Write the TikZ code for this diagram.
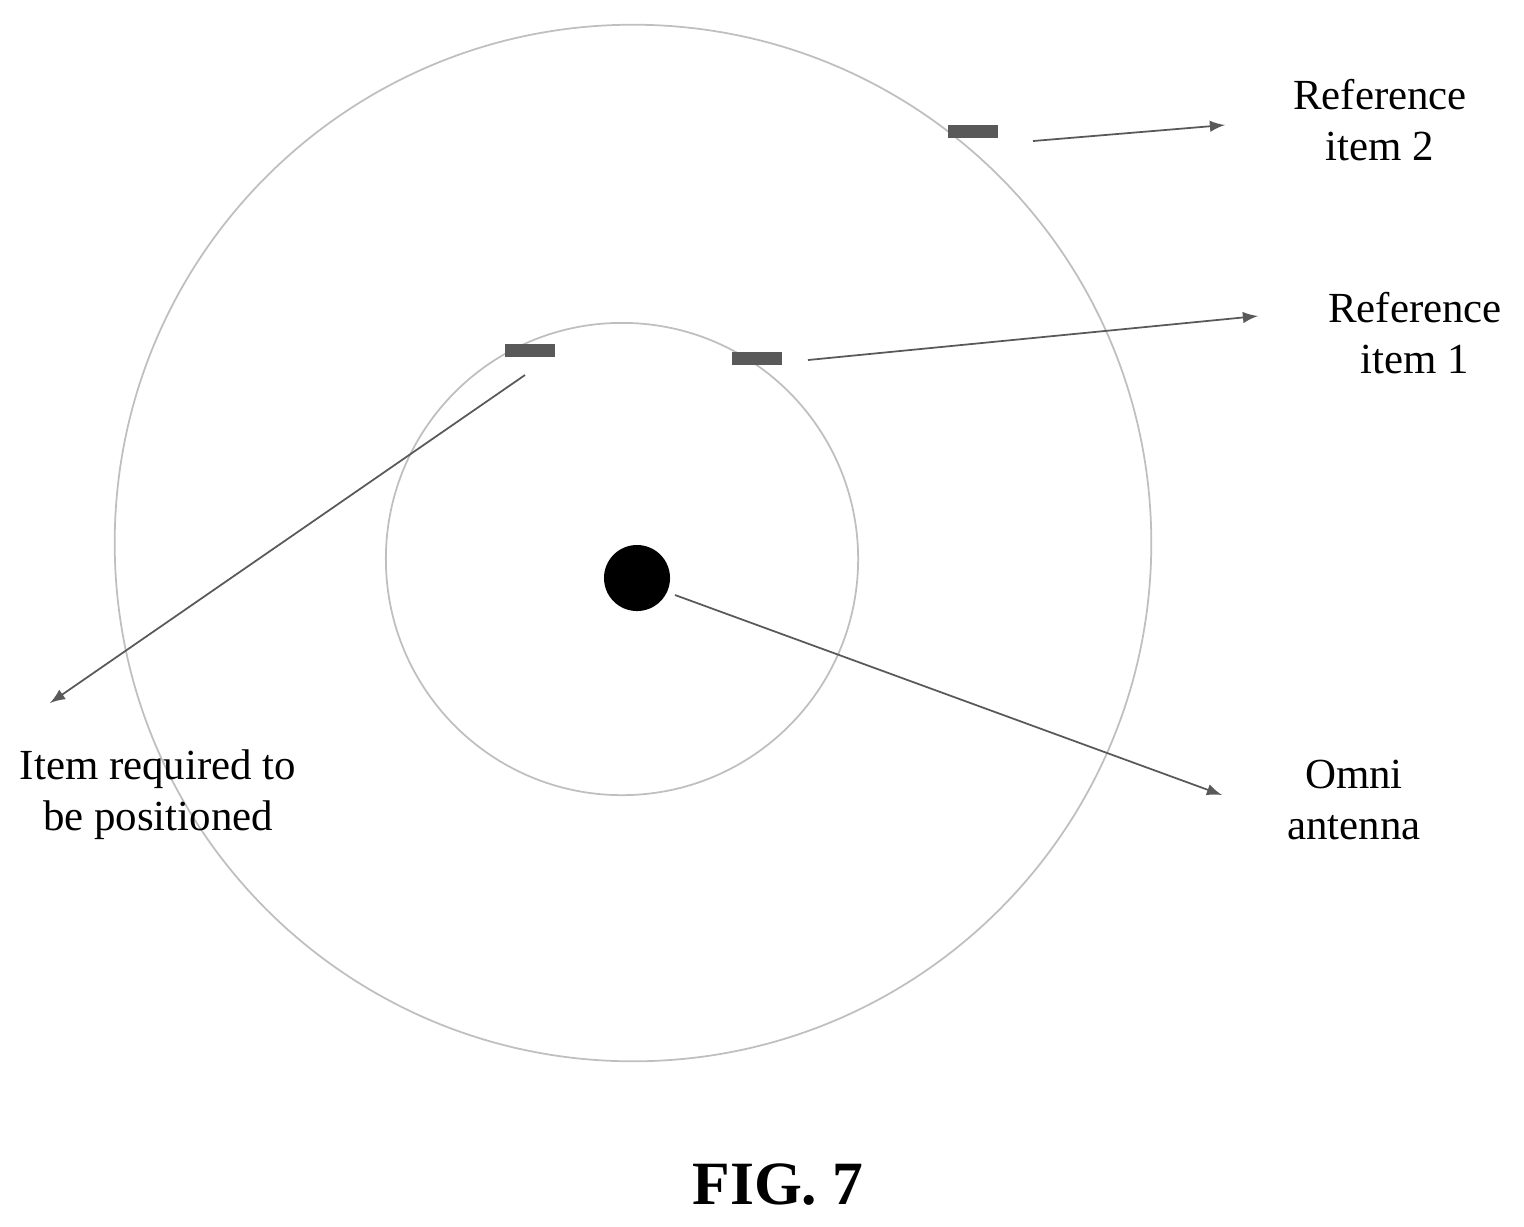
\documentclass[tikz,border=0pt]{standalone}
\usepackage{fontspec}
\setmainfont{Liberation Serif}
\begin{document}
\begin{tikzpicture}[x=0.01cm,y=-0.01cm,
  ring/.style={draw=gray!50,line width=0.5pt},
  tag/.style={fill=gray!70!black,minimum width=0.5cm,minimum height=0.13cm,inner sep=0pt},
  lab/.style={align=center,font=\fontsize{12.2}{14.5}\selectfont},
  ptr/.style={draw=gray!70!black,line width=0.5pt,-latex}]
\useasboundingbox (0,0) rectangle (1524,1226);
\draw[ring] (633,543) circle[radius=5.18cm];
\draw[ring] (622,559) circle[radius=2.36cm];
\node[circle,fill=black,minimum size=0.66cm,inner sep=0pt] (dot) at (637,578) {};
\node[tag] (r2) at (973,131) {};
\node[tag] (r1) at (757,358) {};
\node[tag] (it) at (530,350) {};
\coordinate (a2s) at (1033,141); \coordinate (a2e) at (1225,125);
\coordinate (a1s) at (808,360); \coordinate (a1e) at (1258,316);
\coordinate (ais) at (525,375); \coordinate (aie) at (50,703);
\coordinate (aos) at (675,595); \coordinate (aoe) at (1222,795);
\draw[ptr] (a2s) -- (a2e);
\draw[ptr] (a1s) -- (a1e);
\draw[ptr] (ais) -- (aie);
\draw[ptr] (aos) -- (aoe);
\node[lab] (t2) at (1380,120) {Reference\\item 2};
\node[lab] (t1) at (1415,333) {Reference\\item 1};
\node[lab] (ti) at (158,795) {Item required to\\be positioned};
\node[lab] (to) at (1354,800) {Omni\\antenna};
\node[font=\bfseries\fontsize{17.5}{21}\selectfont] (fig) at (778,1185) {FIG. 7};
\end{tikzpicture}
\end{document}
